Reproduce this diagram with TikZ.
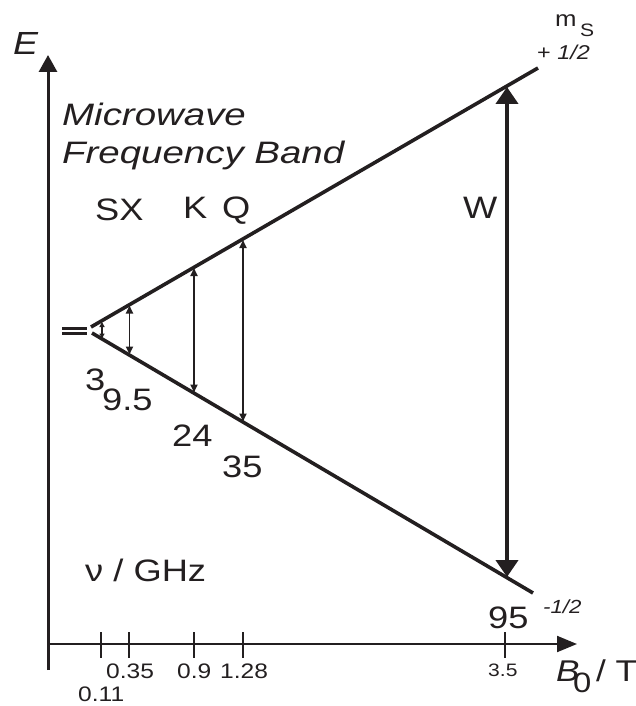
\documentclass[tikz,border=0pt]{standalone}
\usepackage{fontspec}
\usepackage{graphicx}
\setmainfont{Liberation Sans}
\usetikzlibrary{arrows.meta}
\definecolor{ink}{RGB}{35,31,32}
\newcommand{\hwide}[1]{\scalebox{1.17}[1]{#1}}
\newcommand{\hwider}[1]{\scalebox{1.24}[1]{#1}}
\tikzset{
  lbl/.style={anchor=base west, inner sep=0pt, text=ink},
  big/.style={lbl, font=\fontsize{31}{36}\selectfont},
  tick/.style={lbl, font=\fontsize{21}{24}\selectfont},
  level/.style={ink, line width=3.6pt, line cap=butt},
  trans/.style={ink, line width=1.7pt, {Triangle[length=8pt,width=7pt]}-{Triangle[length=8pt,width=7pt]}},
  axis/.style={ink},
}
\begin{document}
\begin{tikzpicture}[x=1pt,y=-1pt]
\useasboundingbox (0,0) rectangle (635,706);
% axes
\coordinate (O) at (48,644);
\coordinate (Ebot) at (48,670);
\coordinate (Etop) at (48,55);
\coordinate (Bend) at (577,644);
\draw[axis, line width=3pt, -{Triangle[length=17pt,width=18pt]}] (Ebot) -- (Etop);
\draw[axis, line width=2pt, -{Triangle[length=20pt,width=16pt]}] (O) -- (Bend);
% ticks
\foreach \n/\x in {t1/101,t2/129,t3/194,t4/243,t5/505}{
  \coordinate (\n a) at (\x,632); \coordinate (\n b) at (\x,658);
  \draw[ink, line width=1.8pt] (\n a) -- (\n b);
}
% zero-field degenerate level
\coordinate (Z1a) at (62,328.5); \coordinate (Z1b) at (87,328.5);
\coordinate (Z2a) at (62,333.5); \coordinate (Z2b) at (87,333.5);
\draw[ink, line width=2.8pt] (Z1a) -- (Z1b);
\draw[ink, line width=2.8pt] (Z2a) -- (Z2b);
% Zeeman levels
\coordinate (U0) at (91,327); \coordinate (U1) at (538,68);
\coordinate (L0) at (92,333); \coordinate (L1) at (533,593);
\draw[level] (U0) -- (U1);
\draw[level] (L0) -- (L1);
% transitions
\coordinate (Su) at (102,322); \coordinate (Sl) at (102,338.5);
\coordinate (Xu) at (129.5,305.5); \coordinate (Xl) at (129.5,354.5);
\coordinate (Ku) at (194,268); \coordinate (Kl) at (194,392.5);
\coordinate (Qu) at (243,240); \coordinate (Ql) at (243,421.5);
\coordinate (Wu) at (507,87); \coordinate (Wl) at (507,577);
\draw[ink, line width=1.2pt, {Triangle[length=5pt,width=5pt]}-{Triangle[length=5pt,width=5pt]}] (Sl) -- (Su);
\draw[trans] (Xl) -- (Xu);
\draw[trans] (Kl) -- (Ku);
\draw[trans] (Ql) -- (Qu);
\draw[ink, line width=4pt, {Triangle[length=17pt,width=22pt]}-{Triangle[length=17pt,width=22pt]}] (Wl) -- (Wu);
% labels
\node[lbl, font=\fontsize{32}{36}\selectfont\itshape] (E) at (13,55) {\hwide{E}};
\node[big, font=\fontsize{31}{36}\selectfont\itshape] (mw) at (62,125) {\hwider{Microwave}};
\node[big, font=\fontsize{31}{36}\selectfont\itshape] (fb) at (62,163) {\hwider{Frequency Band}};
\node[big] (SX) at (95,220) {\hwide{SX}};
\node[big] (K) at (183,218) {\hwide{K}};
\node[big] (Q) at (222,218) {\hwide{Q}};
\node[big] (W) at (463,218) {\hwide{W}};
\node[lbl, font=\fontsize{22}{24}\selectfont] (m) at (555,27) {\hwide{m}};
\node[lbl, font=\fontsize{18}{20}\selectfont] (mS) at (580,37) {\hwide{S}};
\node[lbl, font=\fontsize{20}{22}\selectfont] (plus) at (537,60) {\hwide{+ \textit{1/2}}};
\node[big] (f3) at (85,390) {\hwide{3}};
\node[big] (f95) at (102,410) {\hwide{9.5}};
\node[big] (f24) at (172,446) {\hwide{24}};
\node[big] (f35) at (222,477) {\hwide{35}};
\node[big] (nu) at (85,581) {\hwide{ν / GHz}};
\node[big] (f950) at (488,628) {\hwide{95}};
\node[lbl, font=\fontsize{19}{22}\selectfont\itshape] (minus) at (543,613) {\hwide{-1/2}};
\node[tick] (b035) at (106,678) {\hwide{0.35}};
\node[tick] (b09) at (177,678) {\hwide{0.9}};
\node[tick] (b128) at (220,678) {\hwide{1.28}};
\node[tick] (b011) at (78,701) {\hwide{0.11}};
\node[lbl, font=\fontsize{18}{20}\selectfont] (b35) at (488,676) {\hwide{3.5}};
\node[lbl, font=\fontsize{30}{34}\selectfont\itshape] (B) at (556,681) {\hwide{B}};
\node[lbl, font=\fontsize{28}{30}\selectfont] (B0) at (573,692) {\hwide{0}};
\node[lbl, font=\fontsize{30}{34}\selectfont] (T) at (596,681) {\hwide{/ T}};
\end{tikzpicture}
\end{document}
